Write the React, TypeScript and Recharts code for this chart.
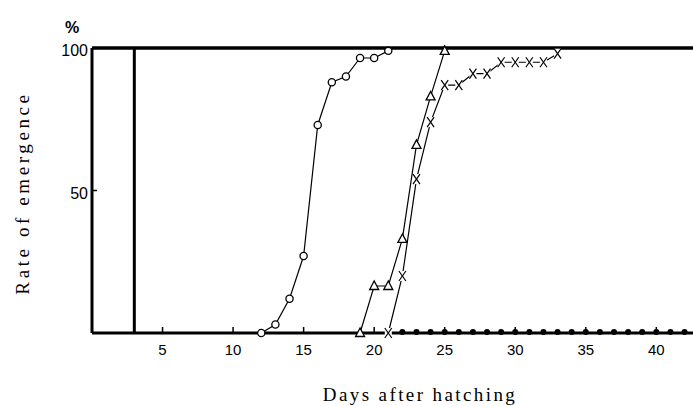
import React from "react";
import { LineChart, Line, XAxis, YAxis, ReferenceLine } from "recharts";

// Rate of emergence (%) by days after hatching, one list per group
const circleDays = [12, 13, 14, 15, 16, 17, 18, 19, 20, 21];
const circleRate = [0, 3, 12, 27, 73, 88, 90, 96.5, 96.5, 99];

const triangleDays = [19, 20, 21, 22, 23, 24, 25];
const triangleRate = [0, 16.5, 16.5, 33, 66, 83, 99];

const crossDays = [21, 22, 23, 24, 25, 26, 27, 28, 29, 30, 31, 32, 33];
const crossRate = [0, 20, 54, 74, 87, 87, 91, 91, 95, 95, 95, 95, 98];

const dotDays = [22, 23, 24, 25, 26, 27, 28, 29, 30, 31, 32, 33, 34, 35, 36, 37, 38, 39, 40, 41, 42];
const dotRate = dotDays.map(() => 0);

const xTicks = [5, 10, 15, 20, 25, 30, 35, 40];
const yTicks = [50, 100];

const toRows = (days: number[], rates: number[]) =>
  days.map((day, i) => ({ day, rate: rates[i] }));

const circleData = toRows(circleDays, circleRate);
const triangleData = toRows(triangleDays, triangleRate);
const crossData = toRows(crossDays, crossRate);
const dotData = toRows(dotDays, dotRate);

const sans = "'Liberation Sans', Arial, sans-serif";
const serif = "'Liberation Serif', 'DejaVu Serif', serif";

const CircleDot = (props: any) => {
  const { cx, cy, index } = props;
  return <circle key={index} cx={cx} cy={cy} r={3.6} fill="#fff" stroke="#000" strokeWidth={1.3} />;
};

const TriangleDot = (props: any) => {
  const { cx, cy, index } = props;
  return (
    <polygon
      key={index}
      points={`${cx},${cy - 5} ${cx - 4.5},${cy + 3.5} ${cx + 4.5},${cy + 3.5}`}
      fill="#fff"
      stroke="#000"
      strokeWidth={1.3}
    />
  );
};

const CrossDot = (props: any) => {
  const { cx, cy, index } = props;
  return (
    <g key={index}>
      <rect x={cx - 3.5} y={cy - 5} width={7} height={10} fill="#fff" />
      <line x1={cx - 3.5} y1={cy - 5} x2={cx + 3.5} y2={cy + 5} stroke="#000" strokeWidth={1.2} />
      <line x1={cx + 3.5} y1={cy - 5} x2={cx - 3.5} y2={cy + 5} stroke="#000" strokeWidth={1.2} />
    </g>
  );
};

const FilledDot = (props: any) => {
  const { cx, cy, index } = props;
  return <circle key={index} cx={cx} cy={cy - 1} r={3} fill="#000" />;
};

const XTick = (props: any) => {
  const { x, y, payload } = props;
  return (
    <g>
      <line x1={x} y1={y} x2={x} y2={y - 6} stroke="#000" strokeWidth={1.5} />
      <text x={x} y={y + 22} textAnchor="middle" fontFamily={sans} fontSize={15} fill="#000">
        {payload.value}
      </text>
    </g>
  );
};

const YTick = (props: any) => {
  const { x, y, payload } = props;
  return (
    <g>
      {payload.value !== 100 && (
        <line x1={x} y1={y} x2={x + 5} y2={y} stroke="#000" strokeWidth={1.5} />
      )}
      <text x={x - 4} y={y + 8} textAnchor="end" fontFamily={sans} fontSize={16} fill="#000">
        {payload.value}
      </text>
    </g>
  );
};

export default function App() {
  return (
    <div style={{ position: "absolute", left: 0, top: 0, background: "#fff" }}>
      <LineChart width={693} height={406} margin={{ top: 48, right: 0, bottom: 0, left: 0 }}>
        <XAxis
          type="number"
          dataKey="day"
          domain={[0, 42.6]}
          ticks={xTicks}
          height={73}
          tickSize={0}
          tickMargin={0}
          tick={<XTick />}
          axisLine={{ stroke: "#000", strokeWidth: 3 }}
          tickLine={false}
          allowDuplicatedCategory={false}
        />
        <YAxis
          type="number"
          domain={[0, 100]}
          ticks={yTicks}
          width={92}
          tickSize={0}
          tickMargin={0}
          tick={<YTick />}
          axisLine={{ stroke: "#000", strokeWidth: 3 }}
          tickLine={false}
        />
        <ReferenceLine y={100} stroke="#000" strokeWidth={3.5} />
        <ReferenceLine x={3} stroke="#000" strokeWidth={3} />
        <Line data={circleData} dataKey="rate" stroke="#000" strokeWidth={1.2} dot={<CircleDot />} isAnimationActive={false} />
        <Line data={triangleData} dataKey="rate" stroke="#000" strokeWidth={1.2} dot={<TriangleDot />} isAnimationActive={false} />
        <Line data={crossData} dataKey="rate" stroke="#000" strokeWidth={1.2} dot={<CrossDot />} isAnimationActive={false} />
        <Line data={dotData} dataKey="rate" stroke="none" dot={<FilledDot />} isAnimationActive={false} />
        <text x={72} y={33} textAnchor="middle" fontFamily={sans} fontSize={16} fontWeight="bold" fill="#000">
          %
        </text>
        <text
          x={0}
          y={0}
          transform="translate(29,193) rotate(-90)"
          textAnchor="middle"
          fontFamily={serif}
          fontSize={19}
          letterSpacing={3.6}
          fill="#000"
        >
          Rate of emergence
        </text>
        <text x={420} y={401} textAnchor="middle" fontFamily={serif} fontSize={19} letterSpacing={2.4} fill="#000">
          Days after hatching
        </text>
      </LineChart>
    </div>
  );
}
